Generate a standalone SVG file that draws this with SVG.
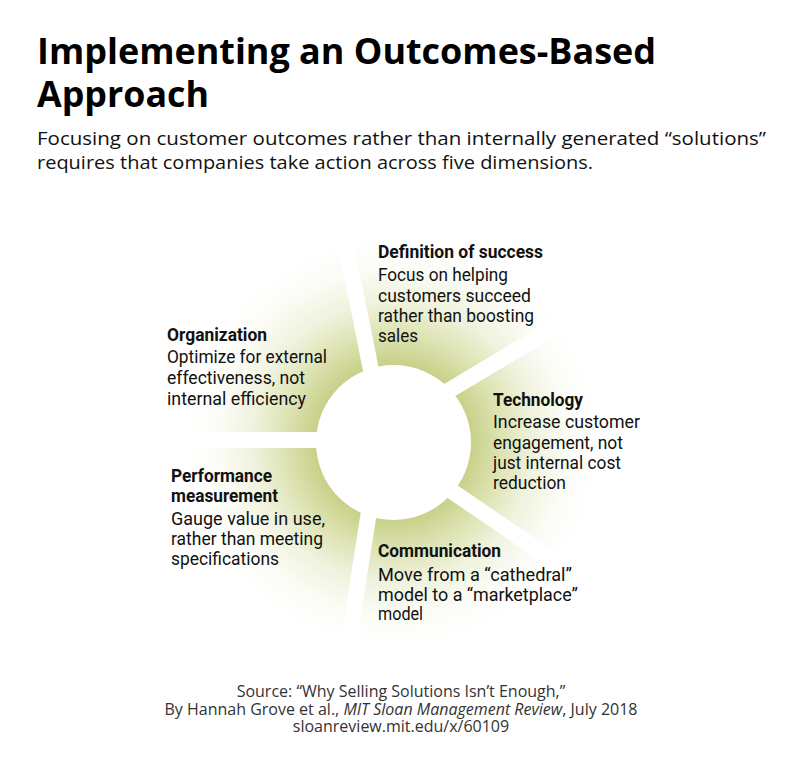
<svg xmlns="http://www.w3.org/2000/svg" width="800" height="783" viewBox="0 0 800 783">
<defs>
<radialGradient id="g" cx="393" cy="442" r="205" gradientUnits="userSpaceOnUse">
<stop offset="0.37" stop-color="#c7cf86"/>
<stop offset="0.52" stop-color="#dce2b0"/>
<stop offset="0.68" stop-color="#eff2dc"/>
<stop offset="0.85" stop-color="#fbfcf6"/>
<stop offset="1" stop-color="#ffffff"/>
</radialGradient>
<style>
.t{font-family:"Open Sans","Liberation Sans",sans-serif;font-weight:700;font-size:35px;fill:#000}
.s{font-family:"Open Sans","Liberation Sans",sans-serif;font-size:18.5px;fill:#111}
.h{font-family:Roboto,"Liberation Sans",sans-serif;font-weight:700;font-size:17.5px;fill:#111}
.b{font-family:Roboto,"Liberation Sans",sans-serif;font-size:17.5px;fill:#111}
.src{font-family:"Open Sans","Liberation Sans",sans-serif;font-size:16px;fill:#333;text-anchor:middle}
.gap{stroke:#fff;stroke-width:16;fill:none}
</style>
</defs>
<rect width="800" height="783" fill="#fff"/>
<g id="title">
<text class="t" x="37" y="64" textLength="619" lengthAdjust="spacingAndGlyphs">Implementing an Outcomes-Based</text>
<text class="t" x="37" y="107" textLength="172" lengthAdjust="spacingAndGlyphs">Approach</text>
<text class="s" x="37" y="145" textLength="729" lengthAdjust="spacingAndGlyphs">Focusing on customer outcomes rather than internally generated “solutions”</text>
<text class="s" x="37" y="169" textLength="556" lengthAdjust="spacingAndGlyphs">requires that companies take action across five dimensions.</text>
</g>
<g id="wheel">
<circle cx="393" cy="442" r="205" fill="url(#g)"/>
</g>
<g id="connectors">
<line class="gap" x1="393" y1="440" x2="150" y2="440"/>
<line class="gap" x1="385" y1="440" x2="342" y2="225"/>
<line class="gap" x1="393" y1="424" x2="620" y2="288"/>
<line class="gap" x1="393" y1="451" x2="620" y2="606"/>
<line class="gap" x1="380" y1="440" x2="346" y2="660"/>
</g>
<g id="center">
<circle cx="393.5" cy="442.5" r="77.5" fill="#fff"/>
</g>
<g id="definition">
<text class="h" x="378" y="258" textLength="165" lengthAdjust="spacingAndGlyphs">Definition of success</text>
<text class="b" x="378" y="281" textLength="130" lengthAdjust="spacingAndGlyphs">Focus on helping</text>
<text class="b" x="378" y="302" textLength="153" lengthAdjust="spacingAndGlyphs">customers succeed</text>
<text class="b" x="378" y="322" textLength="156" lengthAdjust="spacingAndGlyphs">rather than boosting</text>
<text class="b" x="378" y="342" textLength="40" lengthAdjust="spacingAndGlyphs">sales</text>
</g>
<g id="organization">
<text class="h" x="167" y="341" textLength="100" lengthAdjust="spacingAndGlyphs">Organization</text>
<text class="b" x="167" y="363" textLength="160" lengthAdjust="spacingAndGlyphs">Optimize for external</text>
<text class="b" x="167" y="384" textLength="138" lengthAdjust="spacingAndGlyphs">effectiveness, not</text>
<text class="b" x="167" y="405" textLength="139" lengthAdjust="spacingAndGlyphs">internal efficiency</text>
</g>
<g id="technology">
<text class="h" x="493" y="406" textLength="90" lengthAdjust="spacingAndGlyphs">Technology</text>
<text class="b" x="493" y="428" textLength="147" lengthAdjust="spacingAndGlyphs">Increase customer</text>
<text class="b" x="493" y="449" textLength="130" lengthAdjust="spacingAndGlyphs">engagement, not</text>
<text class="b" x="493" y="469" textLength="128" lengthAdjust="spacingAndGlyphs">just internal cost</text>
<text class="b" x="493" y="489" textLength="73" lengthAdjust="spacingAndGlyphs">reduction</text>
</g>
<g id="performance">
<text class="h" x="171" y="482" textLength="101" lengthAdjust="spacingAndGlyphs">Performance</text>
<text class="h" x="171" y="502" textLength="107" lengthAdjust="spacingAndGlyphs">measurement</text>
<text class="b" x="171" y="525" textLength="154" lengthAdjust="spacingAndGlyphs">Gauge value in use,</text>
<text class="b" x="171" y="545" textLength="152" lengthAdjust="spacingAndGlyphs">rather than meeting</text>
<text class="b" x="171" y="565" textLength="108" lengthAdjust="spacingAndGlyphs">specifications</text>
</g>
<g id="communication">
<text class="h" x="378" y="557" textLength="123" lengthAdjust="spacingAndGlyphs">Communication</text>
<text class="b" x="378" y="581" textLength="194" lengthAdjust="spacingAndGlyphs">Move from a “cathedral”</text>
<text class="b" x="378" y="601" textLength="200" lengthAdjust="spacingAndGlyphs">model to a “marketplace”</text>
<text class="b" x="378" y="620" textLength="45" lengthAdjust="spacingAndGlyphs">model</text>
</g>
<g id="source">
<text class="src" x="401" y="697">Source: “Why Selling Solutions Isn’t Enough,”</text>
<text class="src" x="401" y="715">By Hannah Grove et al., <tspan font-style="italic">MIT Sloan Management Review</tspan>, July 2018</text>
<text class="src" x="401" y="732">sloanreview.mit.edu/x/60109</text>
</g>
</svg>
